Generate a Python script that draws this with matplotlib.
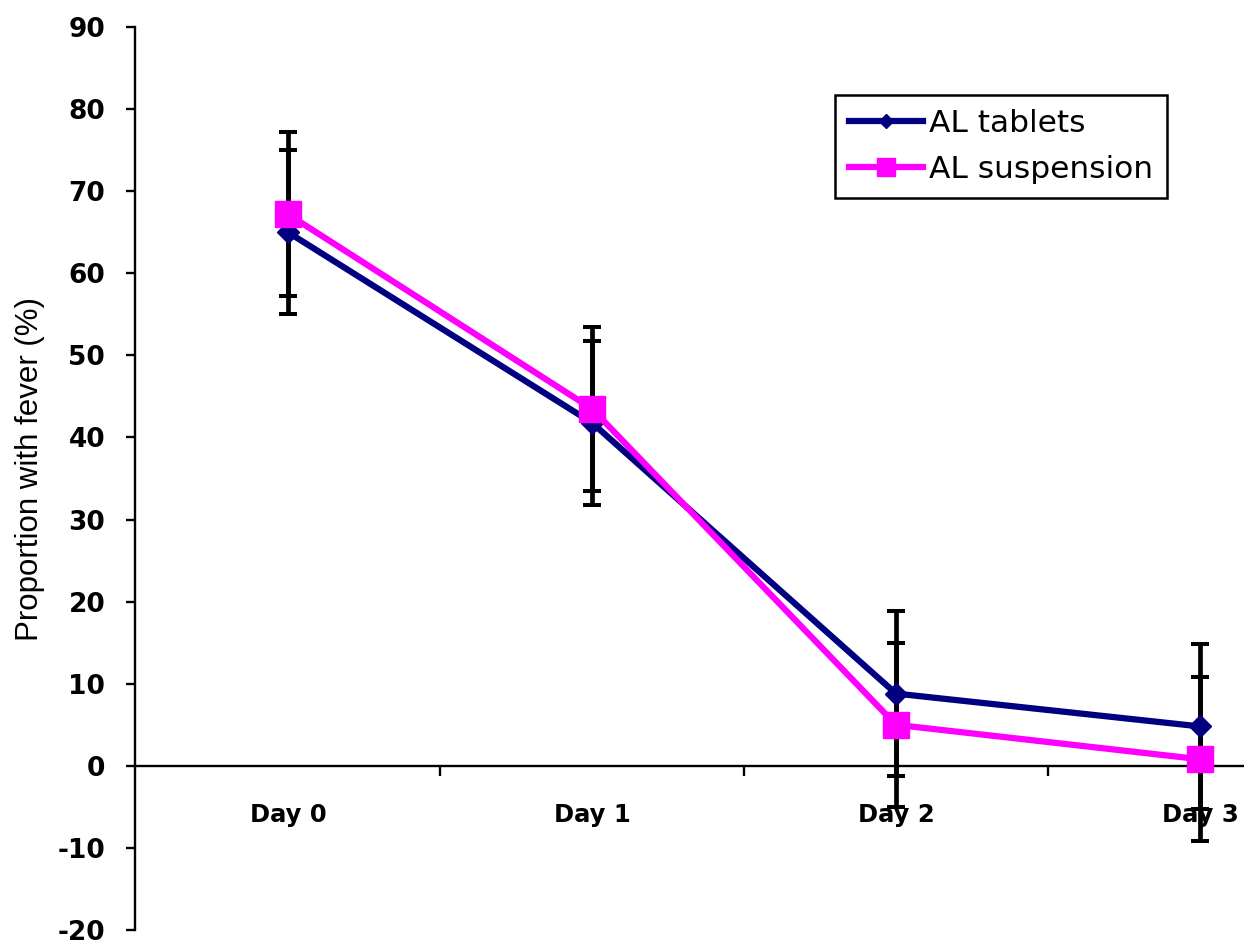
import matplotlib
matplotlib.use("Agg")
import matplotlib.pyplot as plt

plt.rcParams['font.family'] = ['DejaVu Sans']
plt.rcParams['axes.unicode_minus'] = False

days = ["Day 0", "Day 1", "Day 2", "Day 3"]
tablets = [65.0, 41.8, 8.8, 4.8]
tablets_err = [10, 10, 10, 10]
suspension = [67.2, 43.5, 5.0, 0.8]
suspension_err = [10, 10, 10, 10]
yticks = list(range(-20, 91, 10))

fig = plt.figure(figsize=(12.44, 9.42), dpi=100)
ax = fig.add_axes([135 / 1244, 12 / 942, 1 - 135 / 1244, 903 / 942])

x = list(range(len(days)))

# error bars sit underneath the series lines
for vals, errs in [(tablets, tablets_err), (suspension, suspension_err)]:
    ax.errorbar(x, vals, yerr=errs, fmt='none', ecolor='black',
                elinewidth=3.4, capsize=6.5, capthick=2.9, zorder=2)

ax.plot(x, tablets, color='#000080', lw=4.5, marker='D', ms=11,
        label='AL tablets', zorder=3)
ax.plot(x, suspension, color='#FF00FF', lw=4.5, marker='s', ms=18.5,
        label='AL suspension', zorder=4)

ax.set_xlim(-0.503, 3.145)
ax.set_ylim(-20, 90)
ax.set_yticks(yticks)
ax.set_xticks(x)
ax.set_xticklabels(days)
ax.set_xticks([0.5, 1.5, 2.5], minor=True)

for s in ['top', 'right']:
    ax.spines[s].set_visible(False)
ax.spines['bottom'].set_position(('data', 0))
ax.spines['left'].set_linewidth(1.7)
ax.spines['bottom'].set_linewidth(1.7)

ax.tick_params(axis='y', direction='out', length=6.5, width=1.7, pad=15,
               labelsize=19)
ax.tick_params(axis='x', which='major', length=0, pad=27, labelsize=17.5)
ax.tick_params(axis='x', which='minor', direction='out', length=7, width=1.7)
for lab in ax.get_xticklabels() + ax.get_yticklabels():
    lab.set_fontweight('bold')

ax.set_ylabel('Proportion with fever (%)', fontsize=22.5,
              family='Liberation Sans')
ax.yaxis.set_label_coords(-0.081, 0.51)

leg = ax.legend(loc='upper left', bbox_to_anchor=(835 / 1244, 1 - 95 / 942),
                bbox_transform=fig.transFigure, borderaxespad=0,
                fontsize=22.5, fancybox=False, edgecolor='black',
                framealpha=1, handlelength=2.35, handletextpad=0.2,
                labelspacing=0.55, borderpad=0.45)
leg.get_frame().set_linewidth(1.8)
leg.legend_handles[0].set_markersize(7)
leg.legend_handles[1].set_markersize(13)

fig.savefig('out.png', dpi=100)
